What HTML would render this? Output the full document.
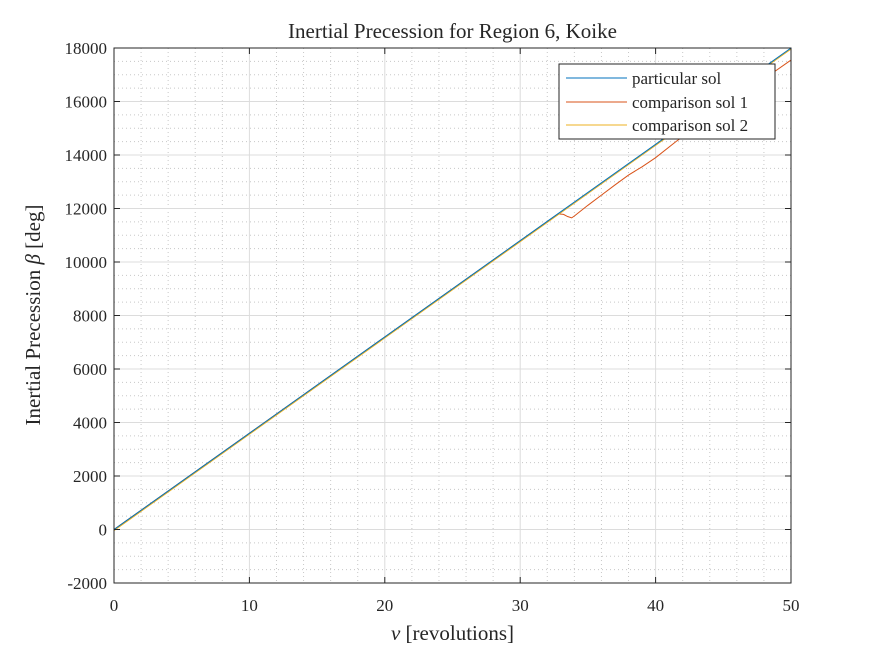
<!DOCTYPE html>
<html><head><meta charset="utf-8"><style>
body{margin:0;background:#fff;}
svg text{font-family:"Liberation Serif",serif;fill:#262626;}
</style></head><body>
<svg id="chart" width="875" height="656" xmlns="http://www.w3.org/2000/svg">
<rect width="875" height="656" fill="#fff"/>
<g id="grid"></g>
<g id="series"></g>
<g id="axes"></g>
<text x="452.5" y="38" font-size="21" text-anchor="middle">Inertial Precession for Region 6, Koike</text>
<text x="452.5" y="640" font-size="21" text-anchor="middle"><tspan font-style="italic">ν</tspan> [revolutions]</text>
<text transform="translate(40,315) rotate(-90)" font-size="21" text-anchor="middle">Inertial Precession <tspan font-style="italic">β</tspan> [deg]</text>
<g>
<rect x="559" y="64" width="216" height="75" fill="#fff" stroke="#262626" stroke-width="1"/>
<line x1="566" y1="78" x2="627" y2="78" stroke="#0072BD" stroke-width="1"/>
<text x="632" y="84" font-size="17">particular sol</text>
<line x1="566" y1="102" x2="627" y2="102" stroke="#D95319" stroke-width="1"/>
<text x="632" y="108" font-size="17">comparison sol 1</text>
<line x1="566" y1="125" x2="627" y2="125" stroke="#EDB120" stroke-width="1"/>
<text x="632" y="131" font-size="17">comparison sol 2</text>
</g>
</svg>
<script>
const xTicks=[0,10,20,30,40,50];
const yTicks=[-2000,0,2000,4000,6000,8000,10000,12000,14000,16000,18000];
const partX=[0,50];
const partY=[0,18000];
const comp1X=[0,32.8,33.2,33.5,33.8,34,35,36,37,38,39,40,41.5,44,46,48,50];
const comp1Y=[0,11800,11780,11700,11650,11720,12120,12500,12880,13250,13560,13900,14500,15420,16120,16840,17550];
const comp2X=[0,50];
const comp2Y=[-40,17960];
const X0=114,X1=791,Y0=583,Y1=48;
const sx=v=>X0+(v-0)/(50-0)*(X1-X0);
const sy=v=>Y0-(v+2000)/20000*(Y0-Y1);
const NS='http://www.w3.org/2000/svg';
function mk(p,t,a){const e=document.createElementNS(NS,t);for(const k in a)e.setAttribute(k,a[k]);p.appendChild(e);return e;}
const grid=document.getElementById('grid'),axes=document.getElementById('axes'),ser=document.getElementById('series');
for(let v=0;v<=50;v+=2){if(v%10===0)continue;const l=mk(grid,'line',{x1:sx(v),x2:sx(v),y1:Y1,y2:Y0,stroke:'#c8c8c8','stroke-dasharray':'1,3','stroke-width':1});

}
for(let v=-2000;v<=18000;v+=500){if(v%2000===0)continue;const l=mk(grid,'line',{x1:X0,x2:X1,y1:sy(v),y2:sy(v),stroke:'#c8c8c8','stroke-dasharray':'1,3','stroke-width':1});

}
xTicks.forEach(v=>{const l=mk(grid,'line',{x1:sx(v),x2:sx(v),y1:Y1,y2:Y0,stroke:'#dcdcdc','stroke-width':1});


mk(axes,'line',{x1:sx(v),x2:sx(v),y1:Y0,y2:Y0-6,stroke:'#262626'});mk(axes,'line',{x1:sx(v),x2:sx(v),y1:Y1,y2:Y1+6,stroke:'#262626'});
const t=mk(axes,'text',{x:sx(v),y:611,'font-size':17,'text-anchor':'middle'});t.textContent=v;

});
yTicks.forEach(v=>{const l=mk(grid,'line',{x1:X0,x2:X1,y1:sy(v),y2:sy(v),stroke:'#dcdcdc','stroke-width':1});


mk(axes,'line',{x1:X0,x2:X0+6,y1:sy(v),y2:sy(v),stroke:'#262626'});mk(axes,'line',{x1:X1,x2:X1-6,y1:sy(v),y2:sy(v),stroke:'#262626'});
const t=mk(axes,'text',{x:107,y:sy(v)+6,'font-size':17,'text-anchor':'end'});t.textContent=v;

});
const box=mk(axes,'rect',{x:X0,y:Y1,width:X1-X0,height:Y0-Y1,fill:'none',stroke:'#262626','stroke-width':1});


function line(xs,ys,c,name){const p=mk(ser,'polyline',{points:xs.map((x,i)=>sx(x)+','+sy(ys[i])).join(' '),fill:'none',stroke:c,'stroke-width':1});

}
line(comp1X,comp1Y,'#D95319','series-comparison-sol-1');
line(comp2X,comp2Y,'#EDB120','series-comparison-sol-2');
line(partX,partY,'#0072BD','series-particular-sol');
</script>
</body></html>
